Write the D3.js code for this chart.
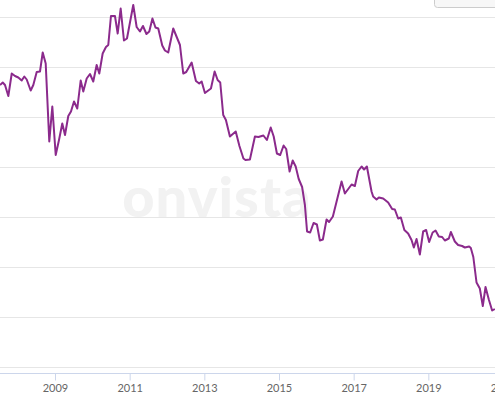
<!DOCTYPE html>
<html>
<head>
<meta charset="utf-8">
<script src="https://cdn.jsdelivr.net/npm/d3@7"></script>
<style>
  html, body { margin: 0; padding: 0; background: #fff; }
  svg { display: block; }
</style>
</head>
<body>
<svg id="chart" width="495" height="400"></svg>
<script>
// ---- data (decimal year, value) ----
const dates = [
  2007.527, 2007.600, 2007.661, 2007.750, 2007.841, 2007.929, 2008.017, 2008.108, 2008.178, 2008.242,
  2008.349, 2008.419, 2008.510, 2008.598, 2008.671, 2008.751, 2008.847, 2008.928, 2009.019, 2009.107,
  2009.195, 2009.268, 2009.356, 2009.428, 2009.509, 2009.597, 2009.688, 2009.758, 2009.849, 2009.937,
  2010.025, 2010.116, 2010.186, 2010.277, 2010.365, 2010.427, 2010.499, 2010.606, 2010.679, 2010.759,
  2010.847, 2010.928, 2011.096, 2011.187, 2011.276, 2011.356, 2011.450, 2011.525, 2011.610, 2011.691,
  2011.766, 2011.873, 2011.945, 2012.033, 2012.167, 2012.347, 2012.435, 2012.515, 2012.660, 2012.775,
  2012.863, 2012.928, 2013.016, 2013.177, 2013.276, 2013.356, 2013.426, 2013.506, 2013.578, 2013.685,
  2013.841, 2013.940, 2014.047, 2014.101, 2014.221, 2014.355, 2014.449, 2014.582, 2014.676, 2014.778,
  2014.858, 2014.944, 2015.032, 2015.123, 2015.193, 2015.284, 2015.367, 2015.447, 2015.528, 2015.619,
  2015.694, 2015.752, 2015.835, 2015.926, 2016.015, 2016.095, 2016.175, 2016.274, 2016.341, 2016.443,
  2016.676, 2016.765, 2016.944, 2017.032, 2017.121, 2017.212, 2017.279, 2017.354, 2017.479, 2017.522,
  2017.613, 2017.675, 2017.790, 2017.924, 2018.031, 2018.103, 2018.192, 2018.264, 2018.358, 2018.459,
  2018.550, 2018.612, 2018.684, 2018.773, 2018.861, 2018.941, 2019.022, 2019.115, 2019.193, 2019.281,
  2019.370, 2019.442, 2019.549, 2019.603, 2019.710, 2019.798, 2019.905, 2019.978, 2020.093, 2020.138,
  2020.205, 2020.291, 2020.379, 2020.459, 2020.532, 2020.620, 2020.709, 2020.781
];
const values = [
  56.4, 56.9, 56.4, 54.2, 58.7, 58.2, 57.9, 57.3, 58.1, 57.5,
  55.3, 56.4, 59.0, 59.1, 62.9, 60.7, 45.1, 52.1, 42.4, 45.4,
  48.7, 46.4, 50.2, 51.1, 53.1, 51.7, 57.3, 55.1, 57.7, 58.6,
  57.1, 60.4, 58.7, 62.7, 64.0, 64.4, 70.2, 70.2, 66.7, 71.7,
  65.3, 65.7, 72.4, 68.0, 67.1, 68.2, 66.6, 67.1, 69.7, 67.9,
  67.7, 64.3, 63.3, 62.9, 67.7, 64.4, 58.7, 59.0, 60.9, 57.2,
  56.7, 57.1, 54.8, 55.7, 59.1, 57.4, 56.9, 50.4, 49.4, 46.1,
  47.1, 44.2, 41.7, 41.4, 41.5, 46.1, 46.0, 46.3, 45.4, 47.9,
  46.1, 42.7, 42.4, 44.3, 43.6, 39.1, 41.3, 40.1, 37.6, 36.0,
  32.4, 27.1, 26.9, 28.8, 28.5, 25.3, 25.5, 29.5, 29.0, 30.1,
  37.1, 34.7, 36.5, 36.2, 39.2, 40.1, 39.5, 40.1, 35.1, 34.1,
  33.5, 33.9, 33.7, 32.9, 31.6, 31.5, 29.7, 29.9, 27.4, 26.7,
  25.4, 23.9, 25.6, 22.5, 27.1, 27.4, 25.0, 26.9, 27.3, 26.1,
  26.0, 25.3, 25.7, 27.0, 25.1, 24.4, 24.2, 23.9, 24.1, 23.8,
  22.0, 16.9, 15.7, 12.2, 16.0, 13.5, 11.3, 11.6
];
const xTickYears = [2009, 2011, 2013, 2015, 2017, 2019, 2021];
const yGridValues = [0, 10, 20, 30, 40, 50, 60, 70];
const watermarkText = "onvista";

// ---- layout ----
const W = 495, H = 400;
const svg = d3.select("#chart");
const x = d3.scaleLinear().domain([2009, 2021]).range([55, 503]);
const y = d3.scaleLinear().domain([0, 70]).range([367, 17]);
const axisY = 373.5;

svg.append("defs").append("clipPath").attr("id", "clip")
  .append("rect").attr("x", 0).attr("y", 0).attr("width", W).attr("height", axisY);

// watermark
svg.append("text")
  .attr("x", 217).attr("y", 217)
  .attr("text-anchor", "middle")
  .attr("font-family", "Lato, 'Open Sans', sans-serif")
  .attr("font-weight", 900)
  .attr("font-size", 56)
  .attr("letter-spacing", 1)
  .attr("fill", "#f2f2f2")
  .text(watermarkText);

// gridlines
svg.append("g").selectAll("line").data(yGridValues).join("line")
  .attr("x1", 0).attr("x2", W)
  .attr("y1", d => Math.round(y(d)) + 0.5).attr("y2", d => Math.round(y(d)) + 0.5)
  .attr("stroke", "#e6e6e6").attr("stroke-width", 1);

// x axis
const xAxis = d3.axisBottom(x).tickValues(xTickYears).tickFormat(d3.format("d")).tickSize(7).tickSizeOuter(0);
const gx = svg.append("g").attr("transform", `translate(0,${axisY})`).call(xAxis);
gx.select(".domain").remove();
gx.append("line").attr("x1", 0).attr("x2", W).attr("y1", 0).attr("y2", 0)
  .attr("stroke", "#ccd6eb").attr("stroke-width", 1);
gx.selectAll(".tick line").attr("stroke", "#ccd6eb");
gx.selectAll(".tick text")
  .attr("y", 18.5).attr("dy", 0)
  .attr("fill", "#666666")
  .attr("font-family", "Lato, 'Open Sans', sans-serif")
  .attr("font-size", 11);

// line
const data = dates.map((d, i) => ({ t: d, v: values[i] }));
const line = d3.line().x(d => x(d.t)).y(d => y(d.v));
svg.append("path")
  .datum(data)
  .attr("clip-path", "url(#clip)")
  .attr("d", line)
  .attr("fill", "none")
  .attr("stroke", "#8b2a8c")
  .attr("stroke-width", 2)
  .attr("stroke-linejoin", "round");

// button at top right (cut off)
svg.append("rect")
  .attr("x", 434.5).attr("y", -20).attr("width", 80).attr("height", 27.5).attr("rx", 3)
  .attr("fill", "#f7f7f7").attr("stroke", "#cccccc").attr("stroke-width", 1);
</script>
</body>
</html>
